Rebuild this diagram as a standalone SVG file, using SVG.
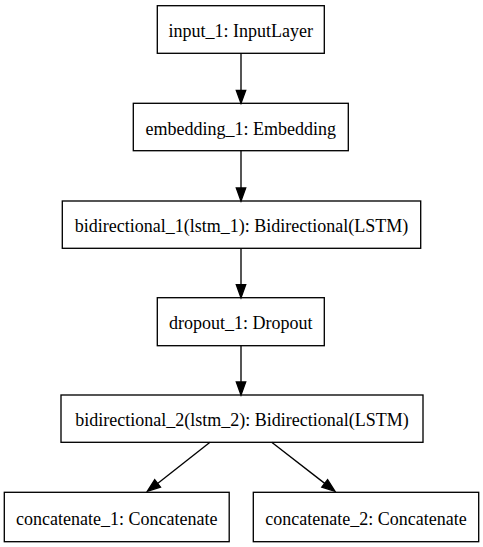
<svg xmlns="http://www.w3.org/2000/svg" width="483" height="547" viewBox="0 0 483 547">
<style>
.node rect{fill:#fff;stroke:#000;stroke-width:1.33}
.node text{font-size:18px;fill:#000;text-anchor:middle}
.edge line{stroke:#000;stroke-width:1.33}
.edge polygon{fill:#000;stroke:#000;stroke-width:1.33}
</style>
<rect width="483" height="547" fill="#fff"/>
<g font-family="Liberation Serif, Times New Roman, serif">
<g id="input_1" class="node"><rect x="157.3" y="5.7" width="167" height="47.6"/><text x="240.8" y="37.2">input_1: InputLayer</text></g>
<g id="embedding_1" class="node"><rect x="133.3" y="103.3" width="215" height="47.4"/><text x="240.8" y="134.7">embedding_1: Embedding</text></g>
<g id="bidirectional_1" class="node"><rect x="62.3" y="201" width="358.4" height="47.3"/><text x="241.5" y="232.3">bidirectional_1(lstm_1): Bidirectional(LSTM)</text></g>
<g id="dropout_1" class="node"><rect x="157.3" y="297.7" width="167" height="48"/><text x="240.8" y="329.3">dropout_1: Dropout</text></g>
<g id="bidirectional_2" class="node"><rect x="61" y="395" width="362" height="47.3"/><text x="242" y="426.3">bidirectional_2(lstm_2): Bidirectional(LSTM)</text></g>
<g id="concatenate_1" class="node"><rect x="4.3" y="492.3" width="224.9" height="49.4"/><text x="116.7" y="524.6">concatenate_1: Concatenate</text></g>
<g id="concatenate_2" class="node"><rect x="253.3" y="492.3" width="225.4" height="49.4"/><text x="366" y="524.6">concatenate_2: Concatenate</text></g>
</g>
<g id="edges" class="edge">
<line x1="241" y1="53.3" x2="241" y2="90.3"/><polygon points="236.3,90.3 245.7,90.3 241,103.3"/>
<line x1="241" y1="150.7" x2="241" y2="188"/><polygon points="236.3,188 245.7,188 241,201"/>
<line x1="241" y1="248.3" x2="241" y2="284.7"/><polygon points="236.3,284.7 245.7,284.7 241,297.7"/>
<line x1="241" y1="345.7" x2="241" y2="382"/><polygon points="236.3,382 245.7,382 241,395"/>
<line x1="210" y1="442.3" x2="157.6" y2="483.4"/><polygon points="160.5,487.1 154.7,479.7 147.3,491.3"/>
<line x1="271.7" y1="442.3" x2="324.7" y2="483.4"/><polygon points="321.8,487.1 327.6,479.7 335,491.3"/>
</g>
</svg>
